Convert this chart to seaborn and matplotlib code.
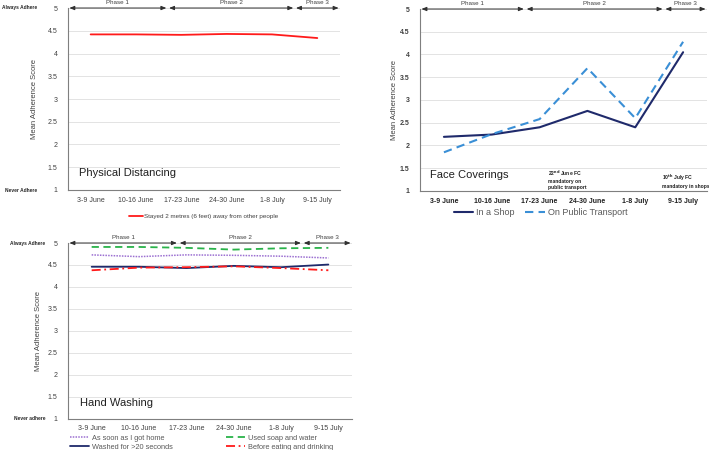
import pandas as pd
import numpy as np
import matplotlib
matplotlib.use("Agg")
import matplotlib.pyplot as plt
import seaborn as sns

weeks = ["3-9 June", "10-16 June", "17-23 June", "24-30 June", "1-8 July", "9-15 July"]

# Physical distancing
distancing = [4.42, 4.42, 4.41, 4.43, 4.42, 4.34]

# Face coverings
in_shop = [2.19, 2.24, 2.40, 2.76, 2.40, 4.05]
public_transport = [1.85, 2.25, 2.58, 3.70, 2.60, 4.28]

# Hand washing
got_home = [4.73, 4.69, 4.73, 4.72, 4.70, 4.66]
soap_water = [4.91, 4.91, 4.89, 4.85, 4.88, 4.89]
washed_20s = [4.46, 4.46, 4.43, 4.48, 4.45, 4.51]
before_eating = [4.38, 4.44, 4.45, 4.47, 4.43, 4.38]

phase_names = ["Phase 1", "Phase 2", "Phase 3"]

sns.set_style("white")
plt.rcParams["font.family"] = ["Liberation Sans", "DejaVu Sans"]

fig = plt.figure(figsize=(7.09, 4.5), dpi=100)
ax1 = fig.add_axes([0.0959, 0.5778, 0.3836, 0.4044])
ax2 = fig.add_axes([0.5924, 0.5756, 0.4048, 0.4044])
ax3 = fig.add_axes([0.0959, 0.0689, 0.4006, 0.3911])

grey = "#7f7f7f"


def style_axes(ax, bold_ticks=False):
    ax.set_xlim(-0.5, 5.5)
    ax.set_ylim(1, 5)
    ax.set_yticks(np.arange(1, 5.01, 0.5))
    ax.set_yticklabels([f"{v:g}" for v in np.arange(1, 5.01, 0.5)],
                       fontweight="bold" if bold_ticks else "normal")
    ax.set_xticks(range(len(weeks)))
    ax.set_xticklabels(weeks, fontweight="bold" if bold_ticks else "normal")
    ax.set_xticks(np.arange(-0.5, 5.6, 1), minor=True)
    ax.tick_params(axis="x", which="major", length=0, labelsize=5, pad=5,
                   labelcolor="#202020" if bold_ticks else "#404040")
    ax.tick_params(axis="x", which="minor", length=4, direction="inout", color=grey, width=0.8)
    ax.tick_params(axis="y", length=3, direction="inout", color=grey, labelsize=5,
                   labelcolor="#404040", pad=6)
    ax.yaxis.grid(True, color="#e3e3e3", lw=0.7)
    ax.set_axisbelow(True)
    for s in ["top", "right"]:
        ax.spines[s].set_visible(False)
    for s in ["left", "bottom"]:
        ax.spines[s].set_color(grey)
        ax.spines[s].set_linewidth(0.8)
    ax.set_xlabel("")
    ax.set_ylabel("Mean Adherence Score", fontsize=5.5, color="#404040")


def phases(ax, bounds):
    edges = [-0.5] + bounds + [5.5]
    for i, name in enumerate(phase_names):
        x0, x1 = edges[i] + 0.03, edges[i + 1] - 0.03
        ax.annotate("", xy=(x0, 5), xytext=(x1, 5), xycoords="data",
                    arrowprops=dict(arrowstyle="<|-|>,head_length=0.3,head_width=0.12",
                                    color="#303030", lw=0.7, shrinkA=0, shrinkB=0),
                    annotation_clip=False)
        ax.text((x0 + x1) / 2, 5.06, name, ha="center", va="bottom", fontsize=4.5,
                color="#404040", clip_on=False)


# Physical distancing
df1 = pd.DataFrame({"week": weeks, "score": distancing})
sns.lineplot(data=df1, x="week", y="score", ax=ax1, sort=False, color="#ff1a1a", lw=1.3,
             label="Stayed 2 metres (6 feet) away from other people")
style_axes(ax1)
phases(ax1, [1.7, 4.5])
ax1.yaxis.set_label_coords(-0.11, 0.5)
ax1.text(-0.25, 1.3, "Physical Distancing", fontsize=8, color="#202020")
ax1.legend(loc="center", bbox_to_anchor=(0.5, -0.145), frameon=False, fontsize=4.5,
           handlelength=2.2, handletextpad=0.2, labelcolor="#404040")

# Face coverings
df2 = pd.DataFrame({"week": weeks * 2,
                    "score": in_shop + public_transport,
                    "series": ["In a Shop"] * 6 + ["On Public Transport"] * 6})
sns.lineplot(data=df2[df2.series == "In a Shop"], x="week", y="score", ax=ax2, sort=False,
             color="#1f2a6b", lw=1.5, label="In a Shop")
sns.lineplot(data=df2[df2.series == "On Public Transport"], x="week", y="score", ax=ax2,
             sort=False, color="#3a8fd6", lw=1.5, linestyle=(0, (4, 2.5)),
             label="On Public Transport")
style_axes(ax2, bold_ticks=True)
phases(ax2, [1.7, 4.6])
ax2.yaxis.set_label_coords(-0.077, 0.5)
ax2.text(-0.3, 1.28, "Face Coverings", fontsize=8, color="#202020")
ax2.text(2.18, 1.5, "22$^{\\mathbf{nd}}$ June FC\nmandatory on\npublic transport",
         fontsize=3.6, fontweight="bold", va="top", ha="left", color="#202020", linespacing=1.35)
ax2.text(4.55, 1.4, "10$^{\\mathbf{th}}$ July FC\nmandatory in shops",
         fontsize=3.6, fontweight="bold", va="top", ha="left", color="#202020", linespacing=1.35)
ax2.legend(loc="center", bbox_to_anchor=(0.42, -0.12), frameon=False, ncol=2, fontsize=6.5,
           handlelength=2.2, handletextpad=0.3, columnspacing=1.2, labelcolor="#595959")

# Hand washing
sns.lineplot(x=weeks, y=got_home, ax=ax3, sort=False, color="#9b6fd1", lw=1.1,
             linestyle=(0, (1, 0.8)), label="As soon as I got home")
sns.lineplot(x=weeks, y=washed_20s, ax=ax3, sort=False, color="#1f2a6b", lw=1.3,
             label="Washed for >20 seconds")
sns.lineplot(x=weeks, y=soap_water, ax=ax3, sort=False, color="#2ab34a", lw=1.3,
             linestyle=(0, (4, 2.5)), label="Used soap and water")
sns.lineplot(x=weeks, y=before_eating, ax=ax3, sort=False, color="#ff1a1a", lw=1.3,
             linestyle=(0, (5, 2, 1, 2)), label="Before eating and drinking")
style_axes(ax3)
ax3.tick_params(axis="x", which="major", pad=4)
phases(ax3, [1.83, 4.45])
ax3.yaxis.set_label_coords(-0.092, 0.5)
ax3.text(-0.25, 1.3, "Hand Washing", fontsize=8, color="#202020")
ax3.legend(loc="center left", bbox_to_anchor=(-0.015, -0.135), frameon=False, ncol=2,
           fontsize=5.3, handlelength=2.6, handletextpad=0.3, columnspacing=7.3,
           labelspacing=0.3, labelcolor="#595959")

# Adherence labels on the left
for y5, y1, lab5, lab1, xr in [(8, 190, "Always Adhere", "Never Adhere", 37),
                               (243, 419, "Always Adhere", "Never adhere", 45)]:
    fig.text(xr / 709, 1 - y5 / 450, lab5, ha="right", va="center", fontsize=3.5, fontweight="bold")
    fig.text(xr / 709, 1 - y1 / 450, lab1, ha="right", va="center", fontsize=3.5, fontweight="bold")

fig.savefig("out.png", dpi=100)
